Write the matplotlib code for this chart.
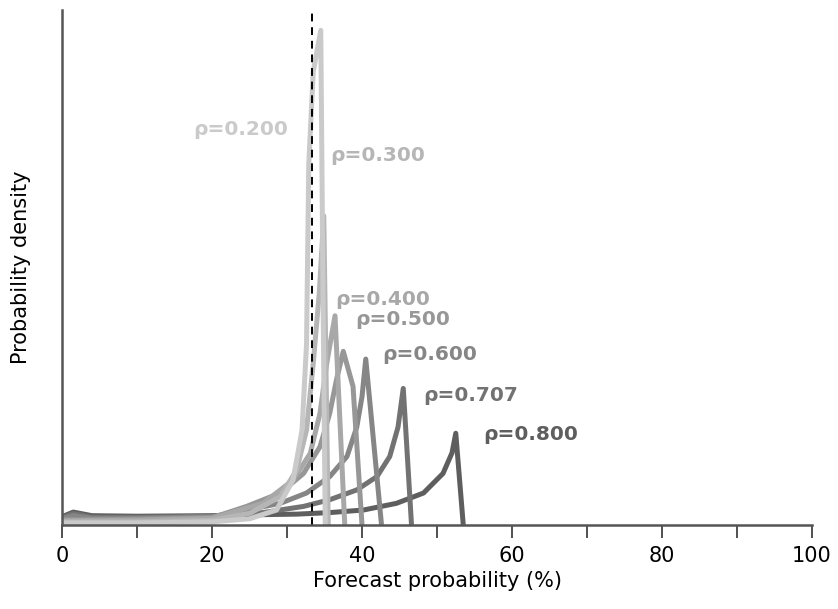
import matplotlib
matplotlib.use('Agg')
import matplotlib.pyplot as plt
from matplotlib.ticker import MultipleLocator

# density curves (arbitrary units, 100 = top of axis)
x_r20 = [0, 10, 20, 25, 28.6, 30.8, 32, 32.6, 32.9, 33.5, 34.5, 34.8, 35.1]
y_r20 = [0.4, 0.4, 0.6, 1.2, 2.9, 8.7, 18.4, 35, 70, 88, 96, 45, 0]

x_r30 = [0, 10, 20, 25.1, 29.1, 31.3, 32.6, 33.5, 34.3, 34.9, 35.5]
y_r30 = [0.6, 0.6, 0.9, 2.3, 5.5, 10.7, 18.4, 31.4, 45, 60, 0]

x_r40 = [0, 10, 20, 22.4, 26.8, 30.8, 33.1, 34.4, 35.3, 36.4, 37.7]
y_r40 = [0.8, 0.9, 1.3, 2.3, 4.2, 8.7, 13.9, 21.7, 31.4, 40.6, 0]

x_r50 = [0, 10, 20, 24.6, 29.1, 32.2, 34.4, 35.7, 36.6, 37.5, 38.8, 40.0]
y_r50 = [1.0, 1.1, 1.4, 3.6, 6.2, 10, 15.2, 21.7, 28.2, 33.7, 26.9, 0]

x_r60 = [0, 1.5, 4, 10, 20, 24.6, 29.1, 32.6, 35.7, 38, 39.3, 40, 40.5, 42.6]
y_r60 = [1.2, 1.8, 1.3, 1.3, 1.6, 2.9, 4.2, 6.2, 9.4, 13.3, 19, 24.9, 32.2, 0]

x_r707 = [0, 1.5, 4, 10, 20, 26.8, 32.2, 35.7, 39.3, 42, 43.7, 44.8, 45.5, 46.6]
y_r707 = [1.4, 2.2, 1.5, 1.5, 1.7, 2.4, 3.6, 4.9, 6.8, 9.4, 13.3, 19, 26.5, 0]

x_r80 = [0, 1.5, 4, 10, 20, 26.8, 31.3, 35.7, 40.2, 44.6, 48.2, 50.8, 52.0, 52.5, 53.5]
y_r80 = [1.6, 2.5, 1.8, 1.7, 1.8, 2.0, 2.1, 2.4, 2.9, 4.2, 6.2, 10, 14, 17.8, 0]

curves = [
    (x_r80, y_r80, '#5e5e5e', 'ρ=0.800', 56.1, 17.5),
    (x_r707, y_r707, '#727272', 'ρ=0.707', 48.1, 25.2),
    (x_r60, y_r60, '#868686', 'ρ=0.600', 42.7, 33.0),
    (x_r50, y_r50, '#979797', 'ρ=0.500', 39.1, 39.8),
    (x_r40, y_r40, '#a8a8a8', 'ρ=0.400', 36.4, 43.7),
    (x_r30, y_r30, '#b6b6b6', 'ρ=0.300', 35.7, 71.8),
    (x_r20, y_r20, '#cacaca', 'ρ=0.200', 17.5, 76.7),
]

fig = plt.figure(figsize=(8.38, 6.09), dpi=100)
ax = fig.add_axes([0.074, 0.138, 0.895, 0.846])

for xs, ys, col, lab, lx, ly in curves:
    ax.plot(xs, ys, color=col, lw=3.6, solid_joinstyle='round', solid_capstyle='butt')
    ax.text(lx, ly, lab, color=col, fontsize=14.5, fontweight='bold',
            ha='left', va='center')

ax.axvline(100 / 3, color='black', lw=1.4, ls=(0, (4, 3)))

ax.set_xlim(0, 100)
ax.set_ylim(0, 100)
ax.xaxis.set_major_locator(MultipleLocator(20))
ax.xaxis.set_minor_locator(MultipleLocator(10))
ax.tick_params(axis='x', which='both', direction='out', length=9, width=1.2,
               colors='#333333', labelsize=15, labelcolor='black', pad=6)
ax.set_yticks([])
for side in ['top', 'right']:
    ax.spines[side].set_visible(False)
for side in ['left', 'bottom']:
    ax.spines[side].set_color('#555555')
    ax.spines[side].set_linewidth(1.8)

ax.set_xlabel('Forecast probability (%)', fontsize=15, labelpad=4)
ax.set_ylabel('Probability density', fontsize=15, labelpad=22)

fig.savefig('out.png', dpi=100)
